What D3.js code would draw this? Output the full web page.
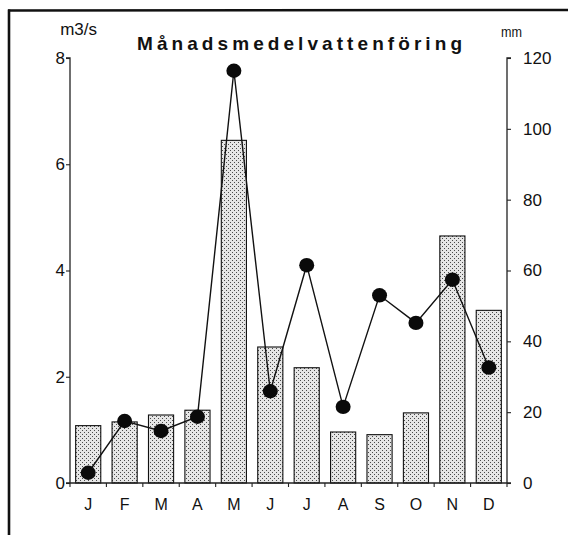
<!DOCTYPE html>
<html>
<head>
<meta charset="utf-8">
<script src="https://cdn.jsdelivr.net/npm/d3@7"></script>
<style>
  html, body { margin: 0; padding: 0; background: #fff; }
  svg { display: block; }
  text { font-family: "Liberation Sans", Arial, Helvetica, sans-serif; fill: #111; }
</style>
</head>
<body>
<svg id="chart" width="568" height="535"></svg>
<script>
// Monthly mean discharge (bars, m3/s) and monthly runoff (line, mm)
const months = ["J", "F", "M", "A", "M", "J", "J", "A", "S", "O", "N", "D"];
const flowM3s = [1.08, 1.15, 1.28, 1.37, 6.45, 2.56, 2.17, 0.96, 0.91, 1.32, 4.65, 3.25];
const runoffMm = [2.9, 17.5, 14.7, 18.7, 116.4, 25.9, 61.5, 21.5, 53.0, 45.2, 57.4, 32.6];
const leftTicks = [0, 2, 4, 6, 8];
const rightTicks = [0, 20, 40, 60, 80, 100, 120];

const svg = d3.select("#chart");
const x0 = 70, x1 = 507, yBase = 483, yTop = 58;

// outer frame (top and left edges)
svg.append("line").attr("x1", 8).attr("y1", 10.5).attr("x2", 568).attr("y2", 10)
  .attr("stroke", "#111").attr("stroke-width", 2.4);
svg.append("line").attr("x1", 9).attr("y1", 9.5).attr("x2", 9).attr("y2", 535)
  .attr("stroke", "#111").attr("stroke-width", 2.6);

// stipple fill for the bars
const defs = svg.append("defs");
const pat = defs.append("pattern").attr("id", "stipple")
  .attr("patternUnits", "userSpaceOnUse").attr("width", 4).attr("height", 4);
pat.append("rect").attr("width", 4).attr("height", 4).attr("fill", "#e6e6e6");
pat.append("rect").attr("x", 0).attr("y", 0).attr("width", 1).attr("height", 1).attr("fill", "#4a4a4a");
pat.append("rect").attr("x", 2).attr("y", 2).attr("width", 1).attr("height", 1).attr("fill", "#4a4a4a");

const idx = d3.range(months.length);
const x = d3.scaleBand().domain(idx).range([x0, x1]).paddingInner(0.31).paddingOuter(0.155);
const yL = d3.scaleLinear().domain([0, 8]).range([yBase, yTop]);
const yR = d3.scaleLinear().domain([0, 120]).range([yBase, yTop]);
const cx = i => x(i) + x.bandwidth() / 2;

// bars
svg.append("g").selectAll("rect").data(flowM3s).join("rect")
  .attr("x", (d, i) => x(i))
  .attr("y", d => yL(d))
  .attr("width", x.bandwidth())
  .attr("height", d => yBase - yL(d))
  .attr("fill", "url(#stipple)")
  .attr("stroke", "#111").attr("stroke-width", 1.1);

// left axis
const axL = svg.append("g").attr("transform", `translate(${x0},0)`)
  .call(d3.axisLeft(yL).tickValues(leftTicks).tickSize(4).tickPadding(1).tickFormat(d3.format("d")));
// right axis
const axR = svg.append("g").attr("transform", `translate(${x1},0)`)
  .call(d3.axisRight(yR).tickValues(rightTicks).tickSize(4).tickPadding(12).tickFormat(d3.format("d")));
[axL, axR].forEach(g => {
  g.select(".domain").attr("stroke", "#222").attr("stroke-width", 1.3);
  g.selectAll(".tick line").attr("stroke", "#222").attr("stroke-width", 1.1);
  g.selectAll(".tick text").attr("font-size", 17).attr("fill", "#111")
    .style("font-family", "'Liberation Sans', Arial, sans-serif");
});
axL.select(".domain").attr("d", `M-4,${yTop}H0V${yBase}`);
axR.select(".domain").attr("d", `M4,${yTop}H0V${yBase}`);

// bottom axis: baseline, boundary ticks, month labels
svg.append("line").attr("x1", x0 - 4).attr("x2", x1 + 4).attr("y1", yBase).attr("y2", yBase)
  .attr("stroke", "#222").attr("stroke-width", 1.3);
const step = x.step();
const bounds = d3.range(months.length + 1).map(k => x0 + k * step);
svg.append("g").selectAll("line").data(bounds).join("line")
  .attr("x1", d => d).attr("x2", d => d).attr("y1", yBase).attr("y2", yBase + 4)
  .attr("stroke", "#222").attr("stroke-width", 1.1);
svg.append("g").selectAll("text").data(months).join("text")
  .attr("x", (d, i) => cx(i)).attr("y", 510)
  .attr("text-anchor", "middle").attr("font-size", 16)
  .text(d => d);

// runoff line with dots
const line = d3.line().x((d, i) => cx(i)).y(d => yR(d));
svg.append("path").datum(runoffMm).attr("d", line)
  .attr("fill", "none").attr("stroke", "#111").attr("stroke-width", 1.4);
svg.append("g").selectAll("ellipse").data(runoffMm).join("ellipse")
  .attr("cx", (d, i) => cx(i)).attr("cy", d => yR(d))
  .attr("rx", 7.5).attr("ry", 7.2).attr("fill", "#0a0a0a");

// unit labels and title
svg.append("text").attr("x", 97).attr("y", 35).attr("text-anchor", "end")
  .attr("font-size", 17).text("m3/s");
svg.append("text").attr("x", 501).attr("y", 37).attr("font-size", 15)
  .attr("textLength", 21).attr("lengthAdjust", "spacingAndGlyphs").text("mm");
svg.append("text").attr("x", 137).attr("y", 50)
  .attr("font-size", 19).attr("font-weight", "bold")
  .attr("textLength", 325).attr("lengthAdjust", "spacing")
  .text("Månadsmedelvattenföring");
</script>
</body>
</html>
